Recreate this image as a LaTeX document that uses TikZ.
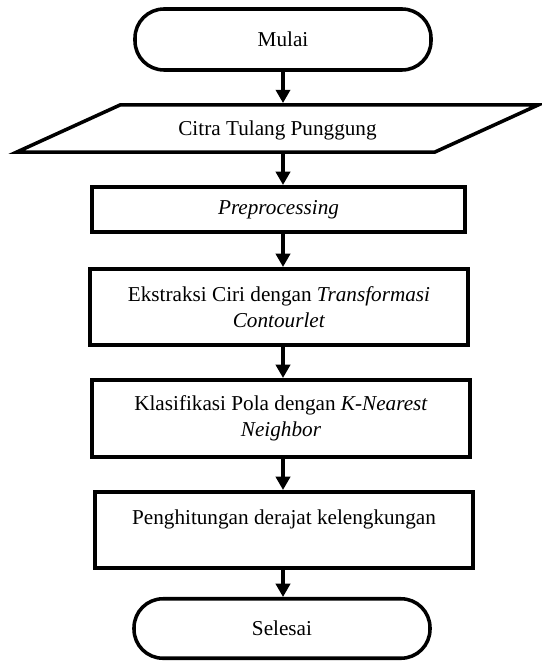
\documentclass[tikz,border=0pt]{standalone}
\usepackage{fontspec}
\setmainfont{Liberation Serif}
\usetikzlibrary{arrows.meta,shapes.geometric,positioning,calc}

% one pixel of the layout
\newcommand{\px}{0.566pt}

\begin{document}
\begin{tikzpicture}[x=0.566pt,y=-0.566pt]
\tikzstyle{terminal}=[draw,line width=2pt,rectangle,rounded corners=29*\px,minimum width=296*\px,inner sep=0pt,font=\fontsize{12}{14.5}\selectfont]
\tikzstyle{io}=[draw,line width=2pt,trapezium,trapezium left angle=24.5,trapezium right angle=155.5,trapezium stretches body,text height=17.4pt,text depth=9.4pt,minimum width=522*\px,inner sep=0pt,font=\fontsize{12}{14.5}\selectfont]
\tikzstyle{process}=[draw,line width=2pt,rectangle,minimum width=378*\px,inner sep=0pt,align=center,font=\fontsize{12}{14.5}\selectfont]
\tikzstyle{flowline}=[line width=1.8pt,-{Triangle[width=8pt,length=7.5pt]}]

\useasboundingbox (0,0) rectangle (541,661);

%% ========== NODES ==========
\node[terminal,minimum height=61*\px] (mulai) at (283,39.5) {Mulai};
\node[io] (citra) at (277.5,128.5) {Citra Tulang Punggung};
\node[process,minimum width=373*\px,minimum height=45.5*\px] (prep) at (278.5,209.5) {\textit{Preprocessing}};
\node[process,minimum height=76.5*\px] (ekstraksi) at (279,307) {Ekstraksi Ciri dengan \textit{Transformasi}\\\textit{Contourlet}};
\node[process,minimum height=77.5*\px] (klasifikasi) at (281,418.5) {Klasifikasi Pola dengan \textit{K-Nearest}\\\textit{Neighbor}};
\node[process,minimum height=76.5*\px] (hitung) at (284,530) {Penghitungan derajat kelengkungan\\~};
\node[terminal,minimum height=59.5*\px] (selesai) at (282,628.5) {Selesai};

%% ========== CONNECTIONS ==========
\draw[flowline] (mulai.south) -- (mulai.south |- citra.north);
\draw[flowline] (citra.south -| mulai) -- (mulai |- prep.north);
\draw[flowline] (prep.south -| mulai) -- (mulai |- ekstraksi.north);
\draw[flowline] (ekstraksi.south -| mulai) -- (mulai |- klasifikasi.north);
\draw[flowline] (klasifikasi.south -| mulai) -- (mulai |- hitung.north);
\draw[flowline] (hitung.south -| mulai) -- (mulai |- selesai.north);

\end{tikzpicture}
\end{document}
